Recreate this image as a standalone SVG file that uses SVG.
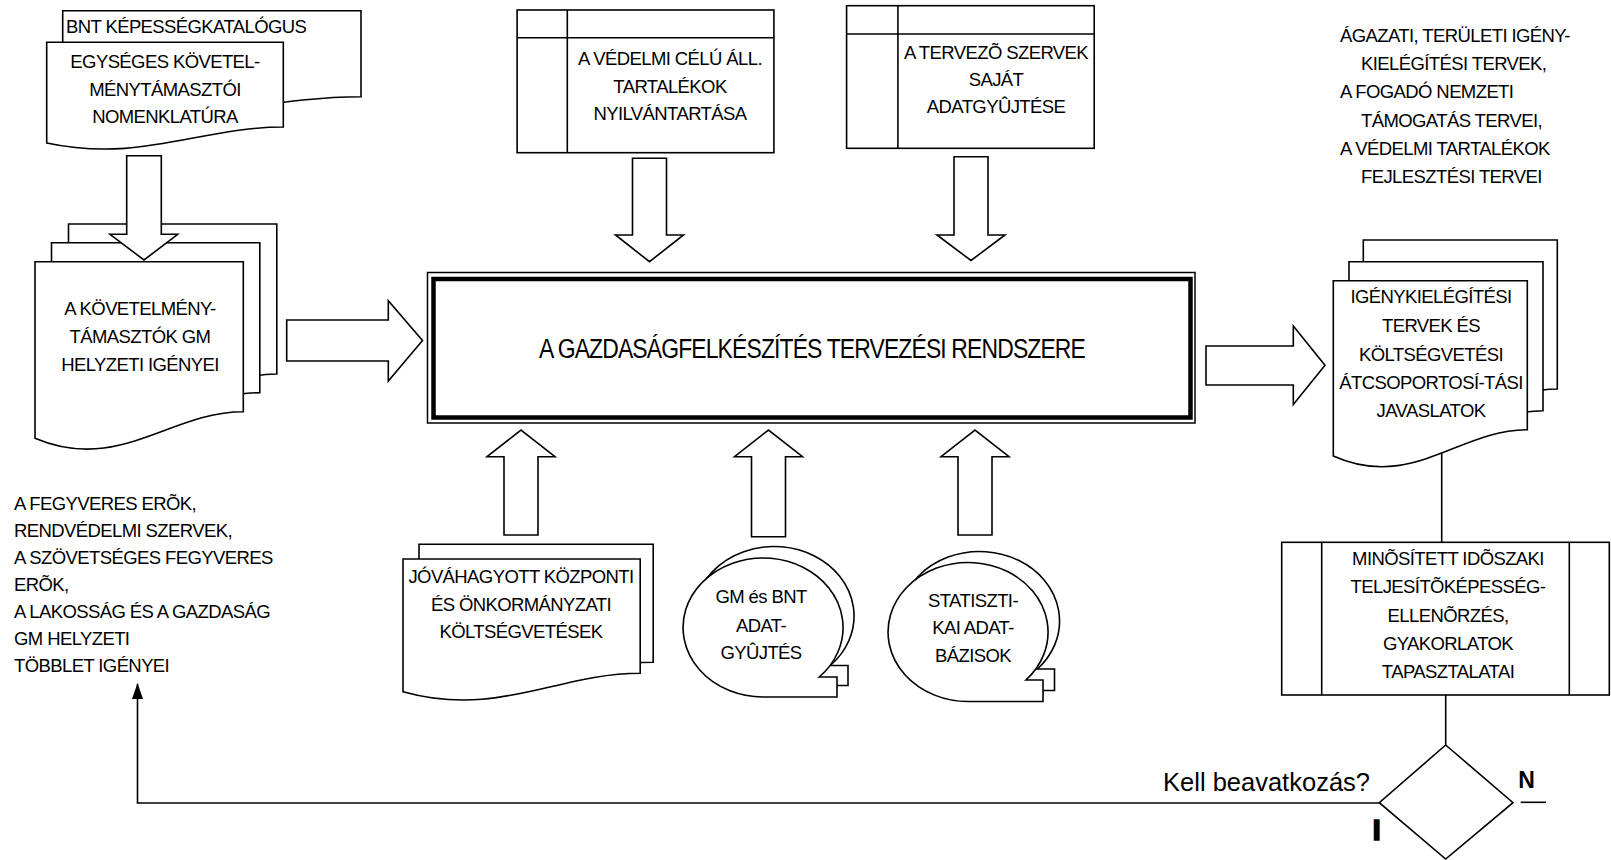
<svg xmlns="http://www.w3.org/2000/svg" width="1611" height="860" viewBox="0 0 1611 860">
<defs>
<style>
.s{fill:#fff;stroke:#000;stroke-width:1.6;stroke-linejoin:miter}
.ln{fill:none;stroke:#000;stroke-width:1.6}
.t{font-family:"Liberation Sans",Arial,sans-serif;font-size:18.5px;letter-spacing:-0.6px;fill:#000}
.c{text-anchor:middle}
.b{font-family:"Liberation Sans",Arial,sans-serif;font-weight:bold;fill:#000}
</style>
<marker id="ah" viewBox="0 0 16 11" refX="15" refY="5.5" markerWidth="16" markerHeight="11" markerUnits="userSpaceOnUse" orient="auto">
<path d="M0,0 L16,5.5 L0,11 Z" fill="#000"/>
</marker>
<path id="tapeGM" d="M763,697 A80,69.5 0 1 1 819.2,677 L837,677 L837,697 Z"/>
<path id="tapeST" d="M968,701.5 A80,69.5 0 1 1 1025.9,680 L1043,680 L1043,701.5 Z"/>
<path id="docL" d="M35,261.7 H243.3 V411.7 C170.4,411.7 118.3,473.7 35,438.3 Z"/>
<path id="docR" d="M1333.3,280.7 H1527.3 V429.7 C1459.4,429.7 1410.9,491 1333.3,456 Z"/>
</defs>
<rect x="0" y="0" width="1611" height="860" fill="#fff"/>

<g id="node-bnt-katalogus">
<path class="s" d="M62.7,10.7 H361 V96.7 C256.6,96.7 182,132.1 62.7,111.9 Z"/>
<text class="t" x="66" y="33">BNT KÉPESSÉGKATALÓGUS</text>
</g>

<g id="node-nomenklatura">
<path class="s" d="M46.7,42.3 H283.3 V127 C200.5,127 141.3,163.1 46.7,143 Z"/>
<text class="t c"><tspan x="165" y="68">EGYSÉGES KÖVETEL-</tspan><tspan x="165" y="96">MÉNYTÁMASZTÓI</tspan><tspan x="165" y="123">NOMENKLATÚRA</tspan></text>
</g>

<g id="node-gm-igenyek">
<use href="#docL" class="s" transform="translate(33.5,-37.7)"/>
<use href="#docL" class="s" transform="translate(16.5,-19)"/>
<use href="#docL" class="s"/>
<text class="t c"><tspan x="140" y="315">A KÖVETELMÉNY-</tspan><tspan x="140" y="343">TÁMASZTÓK GM</tspan><tspan x="140" y="371">HELYZETI IGÉNYEI</tspan></text>
</g>

<g id="node-tartalekok">
<rect class="s" x="517.1" y="10" width="256.8" height="142.7"/>
<line class="ln" x1="517.1" y1="37.7" x2="773.9" y2="37.7"/>
<line class="ln" x1="567.3" y1="10" x2="567.3" y2="152.7"/>
<text class="t c"><tspan x="670" y="64.5">A VÉDELMI CÉLÚ ÁLL.</tspan><tspan x="670" y="92.5">TARTALÉKOK</tspan><tspan x="670" y="119.5">NYILVÁNTARTÁSA</tspan></text>
</g>

<g id="node-tervezo-szervek">
<rect class="s" x="846.6" y="5.7" width="247.6" height="142.6"/>
<line class="ln" x1="846.6" y1="34" x2="1094.2" y2="34"/>
<line class="ln" x1="897.9" y1="5.7" x2="897.9" y2="148.3"/>
<text class="t c"><tspan x="996" y="58.5">A TERVEZÕ SZERVEK</tspan><tspan x="996" y="85.5">SAJÁT</tspan><tspan x="996" y="112.5">ADATGYÛJTÉSE</tspan></text>
</g>

<g id="node-agazati-tervek">
<text class="t"><tspan x="1340" y="41.7">ÁGAZATI, TERÜLETI IGÉNY-</tspan><tspan x="1361" y="70">KIELÉGÍTÉSI TERVEK,</tspan><tspan x="1340" y="98.3">A FOGADÓ NEMZETI</tspan><tspan x="1361" y="126.7">TÁMOGATÁS TERVEI,</tspan><tspan x="1340" y="155">A VÉDELMI TARTALÉKOK</tspan><tspan x="1361" y="183.3">FEJLESZTÉSI TERVEI</tspan></text>
</g>

<g id="node-main">
<rect x="427.5" y="272.5" width="767.5" height="150.5" fill="#fff" stroke="#000" stroke-width="1.5"/>
<rect x="433.5" y="279" width="757" height="138.5" fill="none" stroke="#000" stroke-width="4.5"/>
<text x="812" y="358.3" class="c" style="font-family:'Liberation Sans',Arial,sans-serif;font-size:27px;letter-spacing:-1px;fill:#000" textLength="546" lengthAdjust="spacingAndGlyphs">A GAZDASÁGFELKÉSZÍTÉS TERVEZÉSI RENDSZERE</text>
</g>

<g id="node-igenykielegitesi">
<use href="#docR" class="s" transform="translate(30,-40.7)"/>
<use href="#docR" class="s" transform="translate(15.7,-19)"/>
<use href="#docR" class="s"/>
<text class="t c"><tspan x="1431" y="302.5">IGÉNYKIELÉGÍTÉSI</tspan><tspan x="1431" y="331.5">TERVEK ÉS</tspan><tspan x="1431" y="360.5">KÖLTSÉGVETÉSI</tspan><tspan x="1431" y="389">ÁTCSOPORTOSÍ-TÁSI</tspan><tspan x="1431" y="417">JAVASLATOK</tspan></text>
</g>

<g id="node-koltsegvetesek">
<path class="s" d="M419,544.3 H653.2 V662.3 C571.2,662.3 512.7,710.9 419,683.1 Z"/>
<path class="s" d="M403,559 H640.2 V673.3 C557.2,673.3 497.9,718.2 403,691.7 Z"/>
<text class="t c"><tspan x="521" y="582.7">JÓVÁHAGYOTT KÖZPONTI</tspan><tspan x="521" y="610.7">ÉS ÖNKORMÁNYZATI</tspan><tspan x="521" y="638.3">KÖLTSÉGVETÉSEK</tspan></text>
</g>

<g id="node-gm-bnt-adatgyujtes">
<use href="#tapeGM" class="s" transform="translate(11,-11.5)"/>
<use href="#tapeGM" class="s"/>
<text class="t c"><tspan x="761" y="603.3">GM és BNT</tspan><tspan x="761" y="631.5">ADAT-</tspan><tspan x="761" y="659.3">GYÛJTÉS</tspan></text>
</g>

<g id="node-statisztikai">
<use href="#tapeST" class="s" transform="translate(11.5,-11)"/>
<use href="#tapeST" class="s"/>
<text class="t c"><tspan x="973" y="606.7">STATISZTI-</tspan><tspan x="973" y="634.2">KAI ADAT-</tspan><tspan x="973" y="661.7">BÁZISOK</tspan></text>
</g>

<g id="node-tobblet-igenyek">
<text class="t"><tspan x="14" y="510">A FEGYVERES ERÕK,</tspan><tspan x="14" y="537">RENDVÉDELMI SZERVEK,</tspan><tspan x="14" y="564">A SZÖVETSÉGES FEGYVERES</tspan><tspan x="14" y="591">ERÕK,</tspan><tspan x="14" y="618">A LAKOSSÁG ÉS A GAZDASÁG</tspan><tspan x="14" y="645">GM HELYZETI</tspan><tspan x="14" y="672">TÖBBLET IGÉNYEI</tspan></text>
</g>

<g id="node-ellenorzes">
<rect class="s" x="1281.7" y="542.3" width="327.6" height="152.7"/>
<line class="ln" x1="1321.7" y1="542.3" x2="1321.7" y2="695"/>
<line class="ln" x1="1569.3" y1="542.3" x2="1569.3" y2="695"/>
<text class="t c"><tspan x="1448" y="565">MINÕSÍTETT IDÕSZAKI</tspan><tspan x="1448" y="593.3">TELJESÍTÕKÉPESSÉG-</tspan><tspan x="1448" y="621.7">ELLENÕRZÉS,</tspan><tspan x="1448" y="650">GYAKORLATOK</tspan><tspan x="1448" y="678.3">TAPASZTALATAI</tspan></text>
</g>

<g id="node-dontes">
<polygon class="s" points="1445.7,745 1513,802.7 1445.7,859 1379.3,802.7"/>
</g>

<g id="connectors">
<path class="s" d="M126.7,155.7 H161.3 V234.3 H177.7 L144,260 L110,234.3 H126.7 Z"/>
<path class="s" d="M632.5,158.3 H666.5 V235 H683.5 L649.5,261.7 L615.5,235 H632.5 Z"/>
<path class="s" d="M954,156.7 H988 V235 H1005 L971,260.5 L937,235 H954 Z"/>
<path class="s" d="M286.7,320 H388.3 V300.7 L422.5,340.5 L388.3,381 V361 H286.7 Z"/>
<path class="s" d="M1206,346 H1293.3 V326 L1325,365.3 L1293.3,404.5 V385 H1206 Z"/>
<path class="s" d="M504,535 V456.7 H487 L521,430 L555,456.7 H538 V535 Z"/>
<path class="s" d="M751.5,536.7 V456.7 H734.5 L768.5,430 L802.5,456.7 H785.5 V536.7 Z"/>
<path class="s" d="M958,535 V456.7 H941 L975,430 L1009,456.7 H992 V535 Z"/>
<line class="ln" x1="1441.7" y1="452.7" x2="1441.7" y2="542.3"/>
<line class="ln" x1="1445.7" y1="695" x2="1445.7" y2="745"/>
<polyline class="ln" points="1379.3,803 137.5,803 137.5,684" marker-end="url(#ah)"/>
<line class="ln" x1="1520.7" y1="802.3" x2="1546" y2="802.3"/>
<text x="1370" y="790.7" text-anchor="end" style="font-family:'Liberation Sans',Arial,sans-serif;font-size:25.5px;fill:#000">Kell beavatkozás?</text>
<text x="1518.3" y="788.3" class="b" style="font-size:23px">N</text>
<text x="1372.5" y="840" class="b" style="font-size:30px" stroke="#000" stroke-width="1.5">I</text>
</g>
</svg>
